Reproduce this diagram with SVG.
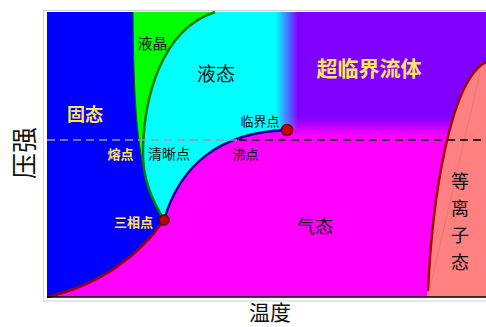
<svg xmlns="http://www.w3.org/2000/svg" width="486" height="327" viewBox="0 0 486 327">
<defs>
<style>
text{font-family:"Noto Sans CJK SC","Noto Sans",sans-serif;text-anchor:middle;dominant-baseline:central}
.y{fill:#FFE55A;font-weight:bold}
.k{fill:#111}
</style>
<linearGradient id="scf" x1="0" y1="12" x2="0" y2="140" gradientUnits="userSpaceOnUse">
<stop offset="0" stop-color="#8000FF"/>
<stop offset="0.82" stop-color="#8000FF"/>
<stop offset="0.97" stop-color="#FF00FF"/>
</linearGradient>
<linearGradient id="liq" x1="276" y1="0" x2="298" y2="0" gradientUnits="userSpaceOnUse">
<stop offset="0" stop-color="#00FFFF" stop-opacity="1"/>
<stop offset="1" stop-color="#00FFFF" stop-opacity="0"/>
</linearGradient>
</defs>
<rect x="43.5" y="10.5" width="450" height="290.5" fill="#fff" stroke="#d0d0d0"/>
<g id="gas"><rect x="47" y="12" width="439" height="285" fill="#FF00FF"/></g>
<g id="supercritical"><rect x="270" y="12" width="216" height="130" fill="url(#scf)"/></g>
<g id="liquid"><path d="M164,220 C152,200 142,178 143,150 C144,100 160,30 215,12 L300,12 L300,130 L287,130 C220,132 180,165 164,220 Z" fill="url(#liq)"/></g>
<g id="solid"><path d="M47,12 L133,12 C134,120 138,180 164,220 C140,255 100,285 47,297 Z" fill="#0000FF"/></g>
<g id="liquid-crystal"><path d="M133,12 L215,12 C160,30 144,100 143,150 C142,178 152,200 164,220 C138,180 134,120 133,12 Z" fill="#00FF00"/></g>
<g id="plasma"><path d="M427,297 C432,200 450,80 486,62 L486,297 Z" fill="#FF8080"/></g>
<g id="connectors" fill="none">
<line x1="430" y1="288" x2="480" y2="73" stroke="#E07070" stroke-width="0.7"/>
<path d="M133,12 C134,120 138,180 164,220" stroke="#006000" stroke-width="1"/>
<path d="M164,220 C152,200 142,178 143,150 C144,100 160,30 215,12" stroke="#008000" stroke-width="2.5"/>
<path d="M164,220 C140,255 100,285 47,297" stroke="#A00000" stroke-width="2.5"/>
<path d="M164,220 C180,165 220,132 287,130" stroke="#000090" stroke-width="2.5"/>
<path d="M428,291 C432,200 450,80 486,62" stroke="#A00000" stroke-width="2.5"/>
<line x1="47" y1="140" x2="237" y2="140" stroke="#9a9aaa" stroke-width="1.5" stroke-dasharray="8 5"/>
<line x1="239" y1="140" x2="486" y2="140" stroke="#000" stroke-width="1.5" stroke-dasharray="8 5"/>
<line x1="47" y1="297" x2="486" y2="297" stroke="#000" stroke-width="1.5"/>
</g>
<g id="critical-point"><circle cx="287" cy="130" r="5.5" fill="#D00000" stroke="#600000" stroke-width="1.5"/><text class="k" x="260" y="120" font-size="13">临界点</text></g>
<g id="triple-point"><circle cx="164" cy="220" r="5" fill="#C00000" stroke="#500000" stroke-width="1.5"/><text class="y" x="133.5" y="221" font-size="13">三相点</text></g>
<g id="labels">
<text class="k" x="152.5" y="42" font-size="15">液晶</text>
<text class="k" x="216" y="72" font-size="19">液态</text>
<text class="y" x="369" y="67" font-size="21">超临界流体</text>
<text class="y" x="85" y="113" font-size="18">固态</text>
<text class="y" x="120.5" y="153" font-size="13">熔点</text>
<text class="k" x="169" y="153" font-size="14">清晰点</text>
<text class="k" x="245.5" y="153" font-size="13">沸点</text>
<text class="k" x="315" y="225" font-size="18">气态</text>
<text class="k" x="460" y="180" font-size="18">等</text>
<text class="k" x="460" y="207" font-size="18">离</text>
<text class="k" x="460" y="234" font-size="18">子</text>
<text class="k" x="460" y="261" font-size="18">态</text>
<text class="k" transform="translate(22,153) rotate(-90)" x="0" y="0" font-size="26">压强</text>
<text class="k" x="270" y="311" font-size="21">温度</text>
</g>
</svg>
